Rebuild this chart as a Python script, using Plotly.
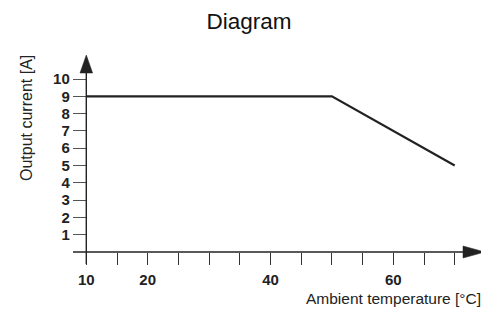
import plotly.graph_objects as go

# Data
temperature = [10, 50, 70]
current = [9, 9, 5]
x_tickvals = [10, 15, 20, 25, 30, 35, 40, 45, 50, 55, 60, 65, 70]
x_ticktext = ["10", "", "20", "", "", "", "40", "", "", "", "60", "", ""]
y_tickvals = [1, 2, 3, 4, 5, 6, 7, 8, 9, 10]
y_ticktext = ["1", "2", "3", "4", "5", "6", "7", "8", "9", "10"]

# page body has an 8px margin: lay out in page pixels, then offset
OFF = 8
PAGE_W, PAGE_H = 489, 312
W, H = PAGE_W - OFF, PAGE_H - OFF
L, R, T, B = 73 - OFF, 4, 55 - OFF, 60
pw, ph = W - L - R, H - T - B

def px(x):  # page pixel -> paper x
    return (x - OFF - L) / pw

def py(y):  # page pixel -> paper y
    return (H - B - (y - OFF)) / ph

INK = "#222222"
FONT = "Liberation Sans, Arial, sans-serif"

fig = go.Figure()
fig.add_trace(go.Scatter(x=temperature, y=current, mode="lines",
                         line=dict(color=INK, width=2.2), cliponaxis=False,
                         showlegend=False, hoverinfo="skip"))

shapes = [
    dict(type="line", xref="paper", yref="paper", x0=0, x1=px(464), y0=0, y1=0,
         line=dict(color=INK, width=1.4)),
    dict(type="path", xref="paper", yref="paper",
         path=f"M {px(463)} {py(246)} L {px(485)} {py(252)} L {px(463)} {py(258)} Z",
         fillcolor=INK, line=dict(color=INK, width=0.5)),
    dict(type="line", xref="paper", yref="paper", x0=px(86.3), x1=px(86.3),
         y0=py(264), y1=py(72), line=dict(color=INK, width=1.4)),
    dict(type="path", xref="paper", yref="paper",
         path=f"M {px(80)} {py(73)} L {px(86.3)} {py(55)} L {px(92.6)} {py(73)} Z",
         fillcolor=INK, line=dict(color=INK, width=0.5)),
]

annotations = [
    dict(text="Output current [A]", xref="paper", yref="paper",
         x=px(26.5), y=py(118.5), xanchor="center", yanchor="middle",
         textangle=-90, showarrow=False,
         font=dict(family=FONT, size=16, color=INK)),
    dict(text="Ambient temperature [°C]", xref="paper", yref="paper",
         x=px(483), y=py(298), xanchor="right", yanchor="middle",
         showarrow=False, font=dict(family=FONT, size=15.5, color=INK)),
]

fig.update_layout(
    width=W, height=H,
    margin=dict(l=L, r=R, t=T, b=B, autoexpand=False),
    paper_bgcolor="white", plot_bgcolor="white",
    title=dict(text="Diagram", x=(249 - OFF) / W, xanchor="center",
               y=1 - (21 - OFF) / H, yanchor="middle",
               font=dict(family=FONT, size=22.5, color="#111111"),
               automargin=False),
    shapes=shapes, annotations=annotations,
    xaxis=dict(range=[10 - 13.3 / 6.14, 10 - 13.3 / 6.14 + pw / 6.14],
               showgrid=False, zeroline=False, showline=False, automargin=False,
               tickmode="array", tickvals=x_tickvals, ticktext=x_ticktext,
               ticks="outside", ticklen=12, tickwidth=1.3, tickcolor="#333333",
               tickfont=dict(family=FONT, size=15, color=INK, weight="bold"),
               ticklabelstandoff=2, fixedrange=True),
    yaxis=dict(range=[0, ph / 17.3], anchor="free", position=px(86.3),
               showgrid=False, zeroline=False, showline=False, automargin=False,
               tickmode="array", tickvals=y_tickvals, ticktext=y_ticktext,
               ticks="outside", ticklen=13.5, tickwidth=1.3, tickcolor="#555555",
               tickfont=dict(family=FONT, size=15, color=INK, weight="bold"),
               ticklabelstandoff=0, fixedrange=True),
)

fig.write_html("out.html")
